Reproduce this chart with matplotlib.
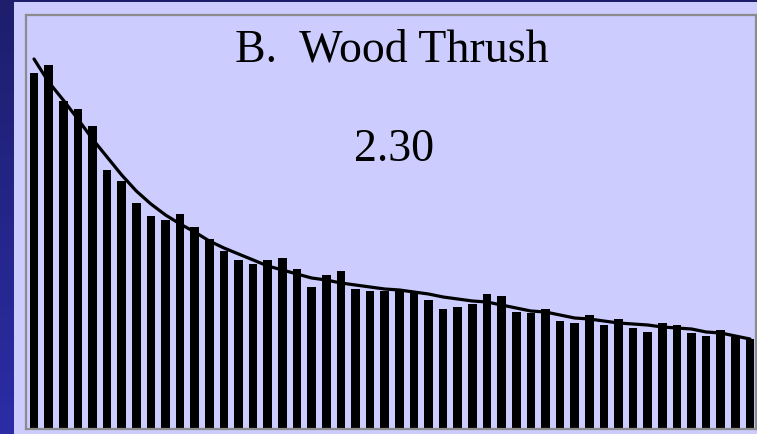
import numpy as np
import matplotlib
matplotlib.use("Agg")
import matplotlib.pyplot as plt
from matplotlib.patches import Rectangle
from matplotlib.colors import LinearSegmentedColormap

# Data (arbitrary units)
bar_heights = [355.7, 364.0, 328.3, 319.7, 303.0, 259.0, 248.3, 225.7, 213.0, 209.0,
               215.0, 202.3, 189.7, 177.7, 169.0, 164.7, 169.0, 170.7, 160.3, 141.7,
               154.0, 158.3, 139.7, 137.7, 137.7, 139.0, 137.0, 129.0, 120.3, 122.3,
               125.0, 135.0, 133.0, 117.3, 115.7, 120.3, 108.0, 106.3, 114.0, 103.7,
               109.7, 101.3, 97.3, 105.7, 103.7, 95.7, 93.3, 99.0, 91.7, 90.3]
fit_curve = [370, 347, 329, 310, 290, 272, 254, 238, 225, 214,
             205, 197, 188, 181, 175, 169, 163, 159, 155, 151,
             149, 146, 144, 142, 140, 139, 137, 135, 132, 130,
             128, 127, 124, 121, 118, 117, 114, 111, 110, 108,
             106, 105, 104, 102, 101, 100, 97, 96, 93, 90]
categories = list(range(1, len(bar_heights) + 1))
title_text = "B.  Wood Thrush"
value_text = "2.30"

W, H = 757, 434
fig = plt.figure(figsize=(W / 100, H / 100), dpi=100)

# blue gradient background
bg = fig.add_axes([0, 0, 1, 1])
grad = np.linspace(0, 1, 256).reshape(-1, 1)
cmap = LinearSegmentedColormap.from_list("bl", ["#1e1e6c", "#2c2ca6"])
bg.imshow(grad, aspect="auto", cmap=cmap, extent=[0, 1, 0, 1], origin="upper")
bg.set_xlim(0, 1)
bg.set_ylim(0, 1)
bg.axis("off")
# lavender panel
bg.add_patch(Rectangle((14 / W, 0), 1 - 14 / W, 1 - 2 / H, transform=bg.transAxes,
                       facecolor="#ccccff", edgecolor="none"))

ax = fig.add_axes([26 / W, 1 - 429 / H, (756 - 26) / W, (429 - 15) / H])
ax.set_facecolor("#ccccff")
sp = 14.61
ax.bar(categories, bar_heights, width=8.6 / sp, color="black", zorder=2)
ax.plot(categories, fit_curve, color="black", lw=2.3, zorder=3,
        solid_capstyle="round", solid_joinstyle="round")
ax.set_xlim(1 - 8 / sp, len(categories) + 6 / sp)
ax.set_ylim(0, 414)
ax.set_xticks([])
ax.set_yticks([])
for s in ax.spines.values():
    s.set_color("#8c8c8c")
    s.set_linewidth(1.6)

fig.text(392 / W, 1 - 62 / H, title_text, ha="center", va="baseline",
         fontsize=33, family="Liberation Serif", color="black")
fig.text(394 / W, 1 - 161 / H, value_text, ha="center", va="baseline",
         fontsize=33, family="Liberation Serif", color="black")

fig.savefig("out.png", dpi=100)
